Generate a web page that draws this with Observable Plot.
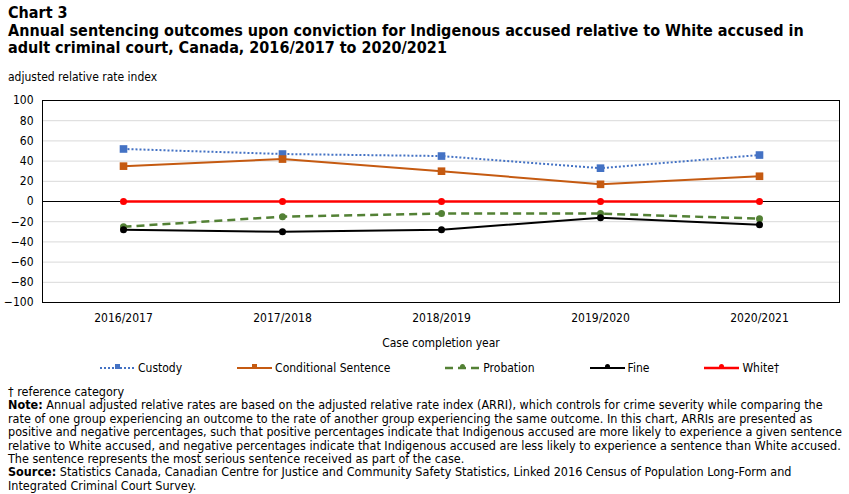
<!DOCTYPE html>
<html>
<head>
<meta charset="utf-8">
<script src="https://cdn.jsdelivr.net/npm/d3@7"></script>
<script src="https://cdn.jsdelivr.net/npm/@observablehq/plot@0.6"></script>
<style>
  body { margin: 0; background: #fff; color: #000; font-family: "DejaVu Sans Condensed", "DejaVu Sans", sans-serif; }
  #title { position: absolute; left: 8px; top: 4px; font-weight: bold; font-size: 16px; line-height: 17.5px; white-space: nowrap; }
  #ylabel { position: absolute; left: 8px; top: 70px; font-size: 12px; white-space: nowrap; }
  #chart { position: absolute; left: 0; top: 90px; }
  #legend { position: absolute; left: 100px; top: 361px; display: flex; gap: 55px; font-size: 12px; white-space: nowrap; }
  #legend .item { display: flex; align-items: center; gap: 3px; }
  #notes { position: absolute; left: 8px; top: 385px; font-size: 12.5px; line-height: 13.4px; white-space: nowrap; }
</style>
</head>
<body>
<div id="title">Chart 3<br>Annual sentencing outcomes upon conviction for Indigenous accused relative to White accused in<br>adult criminal court, Canada, 2016/2017 to 2020/2021</div>
<div id="ylabel">adjusted relative rate index</div>
<div id="chart"></div>
<div id="legend"></div>
<div id="notes">† reference category<br><b>Note:</b> Annual adjusted relative rates are based on the adjusted relative rate index (ARRI), which controls for crime severity while comparing the<br>rate of one group experiencing an outcome to the rate of another group experiencing the same outcome. In this chart, ARRIs are presented as<br>positive and negative percentages, such that positive percentages indicate that Indigenous accused are more likely to experience a given sentence<br>relative to White accused, and negative percentages indicate that Indigenous accused are less likely to experience a sentence than White accused.<br>The sentence represents the most serious sentence received as part of the case.<br><b>Source:</b> Statistics Canada, Canadian Centre for Justice and Community Safety Statistics, Linked 2016 Census of Population Long-Form and<br>Integrated Criminal Court Survey.</div>
<script>
// Case completion years
const years = ["2016/2017", "2017/2018", "2018/2019", "2019/2020", "2020/2021"];

// Adjusted relative rate index for Indigenous accused, by sentence type
const custody     = [52, 47, 45, 33, 46];
const conditional = [35, 42, 30, 17, 25];
const probation   = [-25, -15, -12, -12, -17];
const fine        = [-28, -30, -28, -16, -23];
const white       = [0, 0, 0, 0, 0];

const yTicks = [-100, -80, -60, -40, -20, 0, 20, 40, 60, 80, 100];

const series = [
  { name: "Custody", values: custody, color: "#4472c4", dash: "2,2", width: 2, symbol: "square", r: 4.3 },
  { name: "Conditional Sentence", values: conditional, color: "#c55a11", dash: null, width: 2, symbol: "square", r: 4.3 },
  { name: "Probation", values: probation, color: "#538135", dash: "8,5", width: 2.5, symbol: "circle", r: 3.5 },
  { name: "Fine", values: fine, color: "#000000", dash: null, width: 2, symbol: "circle", r: 3.5 },
  { name: "White\u2020", values: white, color: "#ff0000", dash: null, width: 2.5, symbol: "circle", r: 3.5 }
];

const rows = s => years.map((year, i) => ({ year, value: s.values[i] }));

const marks = [
  Plot.gridY(yTicks.filter(t => Math.abs(t) !== 100 && t !== 0), { stroke: "#d9d9d9", strokeOpacity: 1 }),
  Plot.ruleY([0], { stroke: "#000", strokeWidth: 1 }),
  Plot.frame({ stroke: "#000", strokeWidth: 1 }),
  Plot.axisY(yTicks, { tickSize: 0, tickPadding: 9, label: null, fontSize: 12 }),
  Plot.axisX({ tickSize: 0, tickPadding: 11, fontSize: 12, label: "Case completion year", labelAnchor: "center", labelOffset: 44 })
];
for (const s of series) {
  marks.push(Plot.line(rows(s), {
    x: "year", y: "value", stroke: s.color, strokeWidth: s.width,
    strokeDasharray: s.dash, strokeLinecap: "butt"
  }));
  marks.push(Plot.dot(rows(s), {
    x: "year", y: "value", fill: s.color, stroke: "none", symbol: s.symbol, r: s.r
  }));
}

const chart = Plot.plot({
  width: 849,
  height: 265,
  marginLeft: 42,
  marginRight: 10,
  marginTop: 10,
  marginBottom: 53,
  style: { fontFamily: "'DejaVu Sans Condensed', 'DejaVu Sans', sans-serif", fontSize: "12px", color: "#000", background: "#fff" },
  x: { type: "point", domain: years, padding: 0.5 },
  y: { domain: [-100, 100] },
  marks
});
document.getElementById("chart").appendChild(chart);

// Legend: a short line sample with its marker, then the series name
const legend = d3.select("#legend");
for (const s of series) {
  const item = legend.append("div").attr("class", "item");
  const svg = item.append("svg").attr("width", 35).attr("height", 12);
  svg.append("line").attr("x1", 0).attr("x2", 35).attr("y1", 6).attr("y2", 6)
    .attr("stroke", s.color).attr("stroke-width", s.width)
    .attr("stroke-dasharray", s.dash);
  if (s.symbol === "square") {
    svg.append("rect").attr("x", 15).attr("y", 2).attr("width", 5).attr("height", 5).attr("fill", s.color);
  } else {
    svg.append("circle").attr("cx", 17.5).attr("cy", 4.5).attr("r", 2.5).attr("fill", s.color);
  }
  item.append("span").text(s.name);
}
</script>
</body>
</html>
